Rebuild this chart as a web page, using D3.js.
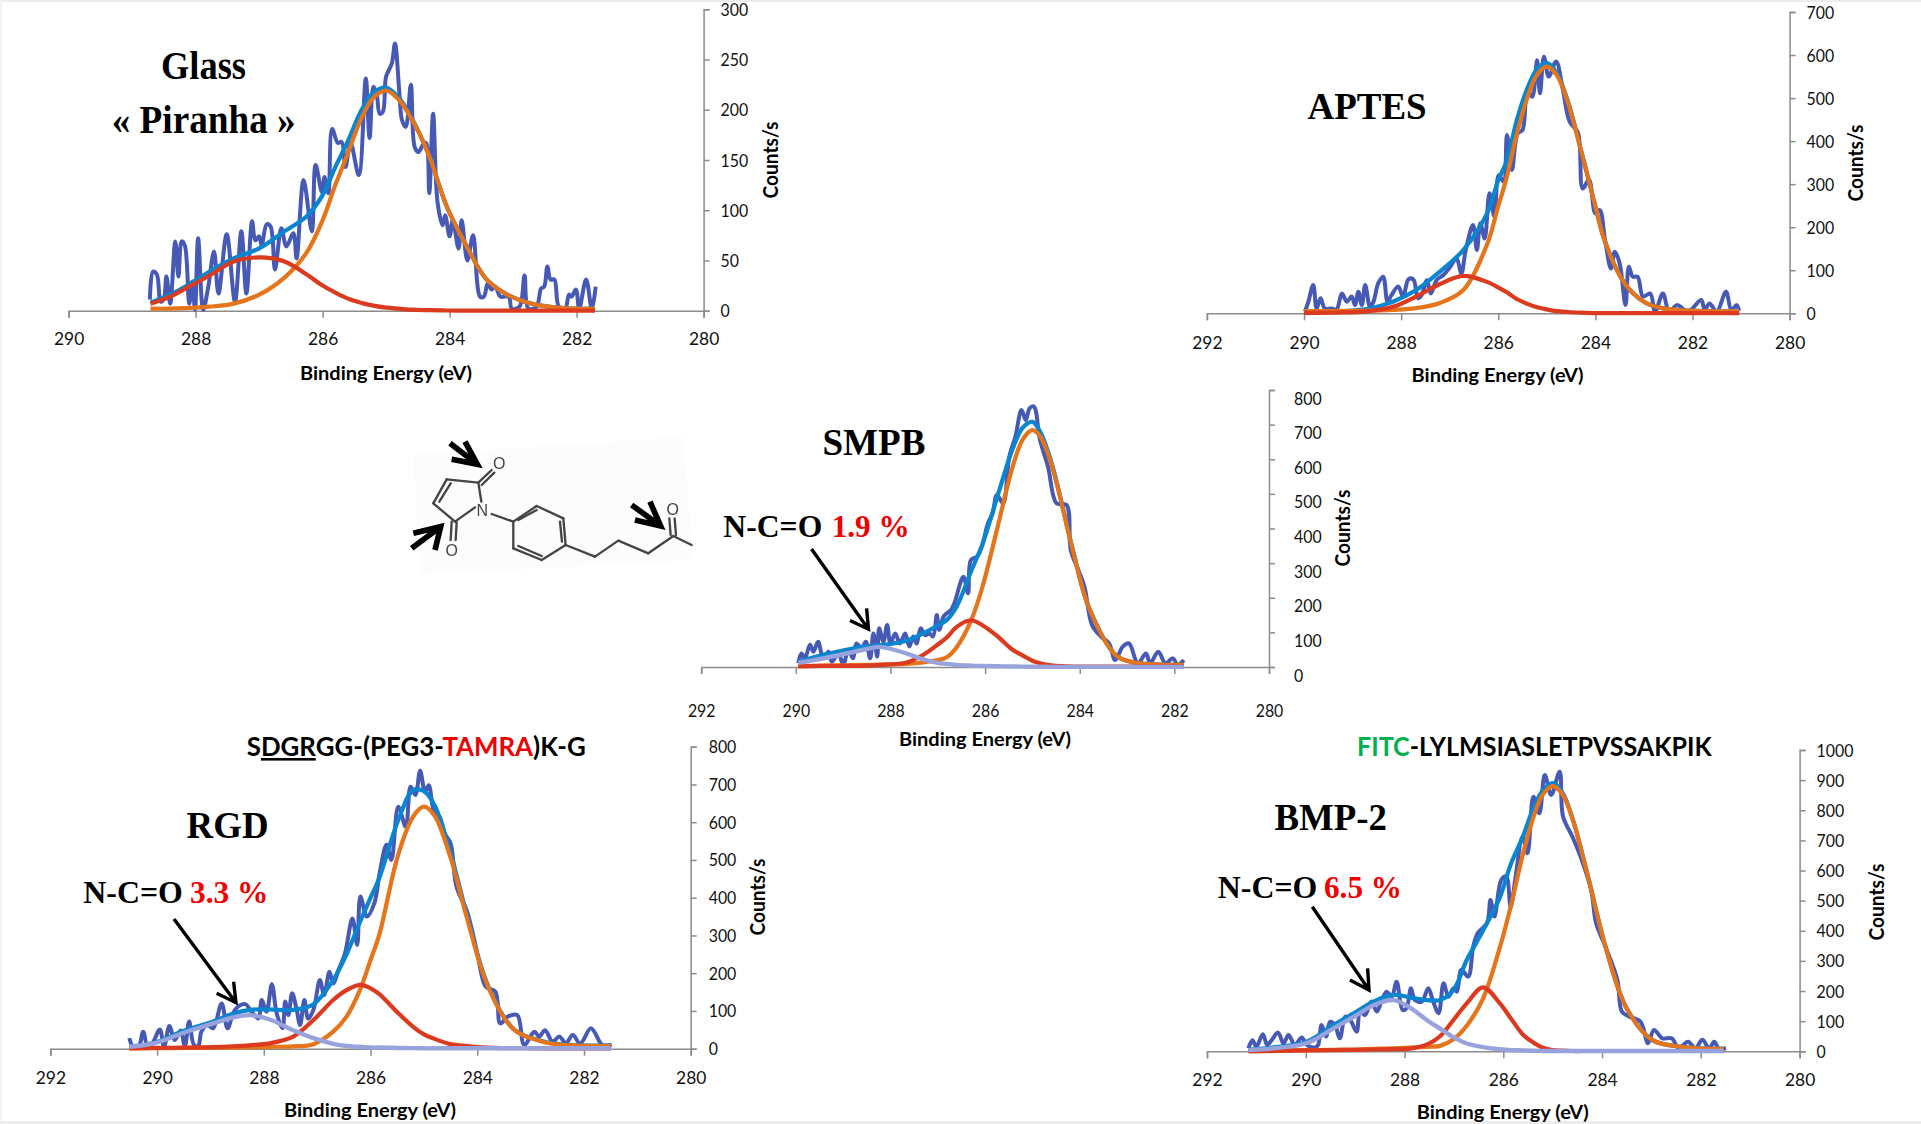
<!DOCTYPE html>
<html>
<head>
<meta charset="utf-8">
<title>XPS C1s spectra</title>
<script src="https://cdnjs.cloudflare.com/ajax/libs/d3/7.8.5/d3.min.js"></script>
<style>
  html, body { margin: 0; padding: 0; background: #fff; }
  svg { display: block; }
  .axis path, .axis line { stroke: #8c8c8c; stroke-width: 1.5; fill: none; }
  .axis text { font-family: Lato, sans-serif; fill: #111; }
  .axtitle { font-family: Lato, sans-serif; font-weight: bold; fill: #000; }
  .big { font-family: "Liberation Serif", serif; font-weight: bold; }
  .pep { font-family: Lato, sans-serif; font-size: 26px; font-weight: bold; fill: #000; }
  .trace { fill: none; stroke-linejoin: round; }
</style>
</head>
<body>
<div id="chart"></div>
<script>
// Glass / Piranha
var glassNoiseEv = [288.72,288.67,288.61,288.55,288.5,288.46,288.4,288.32,288.27,288.22,288.17,288.1,288.05,288.01,287.96,287.88,287.8,287.71,287.64,287.51,287.38,287.28,287.2,287.11,287.06,287,286.96,286.88,286.82,286.75,286.65,286.57,286.46,286.41,286.3,286.17,286.11,286.01,285.97,285.91,285.85,285.76,285.7,285.64,285.56,285.43,285.32,285.26,285.2,285.15,285.1,285.05,285,284.91,284.86,284.79,284.75,284.69,284.61,284.55,284.49,284.42,284.37,284.32,284.26,284.19,284.11,284.07,284,283.95,283.86,283.81,283.72,283.63,283.52,283.46,283.4,283.34,283.28,283.2,283.07,283.02,282.9,282.82,282.76,282.63,282.56,282.51,282.46,282.41,282.35,282.28,282.18,282.12,282.08,282.01,281.96,281.85,281.76,281.7];
var glassNoise = [11,39,36,9,12,34,7,69,34,69,65,7,29,1,72,1,24,59,17,76,9,79,17,89,70,74,65,86,84,41,82,64,77,52,130,79,145,118,133,117,181,167,168,143,167,135,231,172,223,216,196,198,233,246,266,216,190,183,225,163,158,165,167,117,196,108,85,95,74,90,62,90,50,75,14,14,27,21,24,14,14,2,4,35,2,4,22,24,44,31,31,4,2,16,14,21,2,31,2,24];
var glassFitEv = [288.71,288.4,288.16,287.78,287.4,287,286.6,286.25,286,285.8,285.6,285.4,285.2,285,284.8,284.6,284.34,284.04,283.73,283.43,283.12,282.82,282.44,282.05,281.71];
var glassMain = [2,2,2.5,4,7,16,33,58,90,125,157,190,212,219,210,191,157,103,64,32,17,9,4,2,2];
var glassSide = [7,14,22,35,49,53,49,36,25,18,12,8,5,3,2,1,0.5,0.2,0,0,0,0,0,0,0];
var glassEnvelope = [8,16,24,39,52,62,79,94,115,143,169,198,217,222,212,192,157,103,64,32,17,9,4,2,2];

// APTES
var aptesNoiseEv = [289.98,289.91,289.81,289.74,289.66,289.57,289.43,289.33,289.22,289.12,289.02,288.95,288.88,288.81,288.74,288.64,288.57,288.47,288.37,288.28,288.2,288.06,287.96,287.85,287.75,287.65,287.58,287.47,287.39,287.27,287.13,286.99,286.86,286.76,286.67,286.52,286.44,286.37,286.28,286.18,286.08,285.99,285.89,285.82,285.72,285.6,285.5,285.4,285.3,285.2,285.14,285.06,284.96,284.81,284.67,284.53,284.36,284.26,284.13,284,283.91,283.8,283.68,283.6,283.5,283.38,283.31,283.23,283.13,283.02,282.87,282.77,282.61,282.48,282.32,282.09,281.82,281.75,281.65,281.5,281.31,281.2,281.09,281.04];
var aptesNoise = [4,27,66,11,35,11,11,9,46,27,39,19,50,19,66,15,27,70,85,27,42,62,39,79,79,35,42,77,46,77,89,108,128,93,147,205,147,209,174,279,225,321,306,414,333,418,426,519,503,588,511,596,550,585,520,445,420,290,310,232,240,170,104,143,116,19,108,85,85,39,46,4,46,4,19,4,31,8,23,4,50,8,19,6];
var aptesFitEv = [290,289.2,288.66,288.17,287.69,287.2,286.72,286.23,286,285.84,285.6,285.4,285.2,285,284.8,284.57,284.28,283.99,283.8,283.4,283,282.63,282.05,281.04];
var aptesMain = [5,5.5,6,8,12,24,54,160,249,310,424,501,554,573,554,491,372,244,166,70,27,12,6,5];
var aptesSide = [1,2,5,15,39,68,87,73,60,50,32,22,14,9,5,3,1.5,0.5,0.5,0.5,0.5,0.5,0.5,0.5];
var aptesEnvelope = [3,5,11,27,54,97,147,232,309,350,456,523,568,582,559,494,372,244,166,70,27,12,6,5];

// SMPB
var smpbNoiseEv = [289.95,289.88,289.81,289.7,289.63,289.53,289.42,289.31,289.24,289.1,289,288.89,288.79,288.72,288.61,288.52,288.43,288.36,288.28,288.24,288.15,288.07,288,287.9,287.8,287.69,287.6,287.52,287.45,287.36,287.27,287.18,287.1,287.02,286.97,286.88,286.81,286.72,286.64,286.46,286.36,286.3,286.17,286.07,285.94,285.84,285.75,285.62,285.49,285.36,285.23,285.14,285.06,284.97,284.84,284.67,284.49,284.28,284.19,284.03,283.9,283.74,283.55,283.38,283.25,283.09,282.96,282.77,282.6,282.51,282.34,282.19,282.03,281.93,281.8];
var smpbNoise = [11,39,25,64,44,73,25,44,15,39,6,49,25,68,54,73,25,97,30,112,73,121,68,97,68,97,59,88,68,112,92,97,88,150,107,145,155,165,188,261,213,309,319,347,415,444,497,473,607,665,742,713,747,752,656,578,473,468,338,280,232,121,88,68,20,59,68,11,39,11,44,11,25,6,20];
var smpbFitEv = [289.95,289.42,288.93,288.5,288.22,287.66,287.31,287,286.81,286.6,286.3,286.05,285.75,285.42,285.2,285,284.84,284.6,284.13,283.8,283.22,282.8,282.3,281.8];
var smpbMain = [3,4,5,6,7,9,13,20,28,57,133,234,396,577,658,684,667,586,328,169,32,12,7,6];
var smpbSide = [2,3,3,4,6,13,35,65,85,116,135,120,90,50,33,18,11,5,1,1,1,1,1,1];
var smpbExtra = [12,25,39,52,58,39,22,12,9,6,4,3,2,1.5,1,0.8,0.7,0.5,0.5,0.5,0.5,0.5,0.5,0.5];
var smpbEnvelope = [15,35,50,60,63,76,97,120,136,175,275,357,488,629,692,708,680,592,330,170,32,12,7,6];

// RGD
var rgdNoiseEv = [290.52,290.45,290.35,290.26,290.18,290.09,289.95,289.87,289.77,289.67,289.56,289.48,289.4,289.31,289.23,289.17,289.06,288.95,288.79,288.68,288.54,288.35,288.23,288.1,288.04,287.95,287.85,287.76,287.65,287.6,287.54,287.47,287.39,287.32,287.24,287.17,287.07,286.95,286.87,286.77,286.7,286.6,286.48,286.34,286.25,286.19,286.07,285.93,285.82,285.7,285.61,285.48,285.34,285.25,285.16,285.07,284.98,284.91,284.8,284.71,284.61,284.5,284.39,284.2,284.07,283.98,283.84,283.66,283.57,283.43,283.25,283.12,282.93,282.84,282.73,282.59,282.46,282.34,282.21,282.07,281.87,281.71,281.66,281.48];
var rgdNoise = [28,5,4,45,7,14,51,5,60,23,48,7,72,10,7,45,63,54,120,54,103,118,98,80,129,98,171,94,54,125,89,147,107,63,129,80,103,182,142,204,173,209,252,345,275,403,350,385,473,540,500,641,588,694,672,736,681,698,623,615,570,544,429,367,297,239,164,151,67,85,89,10,45,32,49,19,32,14,36,14,54,19,10,10];
var rgdFitEv = [290.52,290.07,289.45,288.95,288.6,288.26,287.9,287.45,287.07,286.7,286.45,286.2,286,285.84,285.48,285.2,285,284.8,284.5,284.2,283.8,283.3,282.75,282.4,281.5];
var rgdMain = [1,1.5,2,3,3,4,5,6,12,45,85,155,235,300,515,615,641,617,506,350,165,49,18,10,7];
var rgdSide = [1,2,3,4,6,9,14,32,76,129,155,169,160,145,94,58,38,26,12,7,3,1.5,1,1,1];
var rgdExtra = [5,14,45,67,82,89,78,49,28,13,7,5,3,3,2,1.5,1,1,1,1,1,1,1,1,1];
var rgdEnvelope = [6,15,50,72,92,103,104,103,118,182,250,335,400,451,606,685,682,645,518,358,168,50,19,11,8];

// BMP-2
var bmpNoiseEv = [291.16,291.08,291,290.87,290.78,290.69,290.56,290.45,290.35,290.22,290.08,289.98,289.81,289.75,289.68,289.59,289.51,289.41,289.31,289.2,289.1,288.97,288.9,288.8,288.67,288.56,288.46,288.36,288.26,288.16,288.04,287.96,287.87,287.79,287.65,287.52,287.42,287.31,287.21,287.11,287.01,286.94,286.85,286.71,286.61,286.52,286.33,286.26,286.18,286.04,285.94,285.85,285.75,285.61,285.51,285.39,285.27,285.16,285.03,284.86,284.79,284.6,284.41,284.22,284.12,283.93,283.69,283.6,283.45,283.22,283.07,282.95,282.78,282.59,282.45,282.26,282.11,281.97,281.83,281.73,281.64,281.49];
var bmpNoise = [10,37,15,57,21,37,62,26,54,21,46,21,13,21,87,49,98,87,43,115,104,65,132,120,165,132,170,198,181,231,137,143,209,170,165,209,165,126,226,181,209,198,270,248,347,392,425,502,447,569,580,480,580,712,657,845,790,917,851,928,779,712,635,535,425,347,237,132,115,98,27,71,43,43,10,32,10,38,10,32,10,10];
var bmpFitEv = [291.16,290.66,289.98,289.44,288.97,288.63,288.22,287.89,287.55,287.28,287.01,286.74,286.41,286.07,285.85,285.6,285.37,285.2,285,284.8,284.6,284.3,283.93,283.5,282.98,282.4,281.54];
var bmpMain = [1,2,4,5,6,8,10,12,15,18,40,85,175,345,480,656,787,852,880,852,772,590,347,142,37,15,8];
var bmpSide = [0,1,3,4,5,6,7,9,22,50,104,159,212,159,110,55,27,12,4,2,1,1,1,1,1,1,1];
var bmpExtra = [4,10,27,76,120,153,170,145,104,75,47,26,14,7,4,3,2,1,1,1,1,1,1,1,1,1,1];
var bmpEnvelope = [6,13,32,87,132,165,187,179,170,170,203,303,401,511,620,714,816,865,890,858,774,590,347,142,37,15,8];

var xTicksShort = [290,288,286,284,282,280];
var xTicksLong = [292,290,288,286,284,282,280];
var yTicks300 = [0,50,100,150,200,250,300];
var yTicks700 = [0,100,200,300,400,500,600,700];
var yTicks800 = [0,100,200,300,400,500,600,700,800];
var yTicks1000 = [0,100,200,300,400,500,600,700,800,900,1000];

var colors = {noise: "#4659b5", envelope: "#0a85cf", main: "#e5741b", side: "#db3a1f", extra: "#98a2dc"};

// frames are in page pixels
var panels = [
  {noiseEv: glassNoiseEv, noise: glassNoise, fitEv: glassFitEv, main: glassMain, side: glassSide, envelope: glassEnvelope,
   domain: [290,280], xticks: xTicksShort, ymax: 300, yticks: yTicks300, xdigit: 10.1,
   left: 68.6, right: 703.6, bottom: 310.7, top: 9.3, xpad: 15, ypad: 11, ydy: 0, titleX: 386, titleY: 380, countsX: 778, countsY: 160},
  {noiseEv: aptesNoiseEv, noise: aptesNoise, fitEv: aptesFitEv, main: aptesMain, side: aptesSide, envelope: aptesEnvelope,
   domain: [292,280], xticks: xTicksLong, ymax: 700, yticks: yTicks700, xdigit: 10.1,
   left: 1206.9, right: 1789.6, bottom: 313.3, top: 12, xpad: 16, ypad: 11, ydy: 0, titleX: 1497.6, titleY: 382, countsX: 1863, countsY: 163},
  {noiseEv: smpbNoiseEv, noise: smpbNoise, fitEv: smpbFitEv, main: smpbMain, side: smpbSide, extra: smpbExtra, envelope: smpbEnvelope,
   domain: [292,280], xticks: xTicksLong, ymax: 800, yticks: yTicks800, xdigit: 9.2,
   left: 701.2, right: 1269, bottom: 667, top: 390, xpad: 30, ypad: 19, ydy: 8, titleX: 985, titleY: 746, countsX: 1350, countsY: 528},
  {noiseEv: rgdNoiseEv, noise: rgdNoise, fitEv: rgdFitEv, main: rgdMain, side: rgdSide, extra: rgdExtra, envelope: rgdEnvelope,
   domain: [292,280], xticks: xTicksLong, ymax: 800, yticks: yTicks800, xdigit: 10.1,
   left: 50.4, right: 690.7, bottom: 1048.7, top: 746.7, xpad: 16, ypad: 12, ydy: 0, titleX: 370, titleY: 1117, countsX: 765, countsY: 897},
  {noiseEv: bmpNoiseEv, noise: bmpNoise, fitEv: bmpFitEv, main: bmpMain, side: bmpSide, extra: bmpExtra, envelope: bmpEnvelope,
   domain: [292,280], xticks: xTicksLong, ymax: 1000, yticks: yTicks1000, xdigit: 10.1,
   left: 1207, right: 1799.6, bottom: 1051.3, top: 750, xpad: 15, ypad: 11, ydy: 0, titleX: 1502.8, titleY: 1119, countsX: 1884, countsY: 902}
];

var svg = d3.select("#chart").append("svg")
    .attr("width", 1921)
    .attr("height", 1124);

svg.append("rect").attr("width", 1921).attr("height", 1124).attr("fill", "#fff");
svg.append("rect").attr("width", 1921).attr("height", 2).attr("fill", "#ececec");
svg.append("rect").attr("width", 2).attr("height", 1124).attr("fill", "#f2f2f2");
svg.append("rect").attr("y", 1121).attr("width", 1921).attr("height", 3).attr("fill", "#ececec");

var drawPanel = function(p) {
  var x = d3.scaleLinear().domain(p.domain).range([p.left, p.right]);
  var y = d3.scaleLinear().domain([0, p.ymax]).range([p.bottom, p.top]);
  var g = svg.append("g");

  var xax = g.append("g")
      .attr("class", "axis")
      .attr("transform", "translate(0," + p.bottom + ")")
      .call(d3.axisBottom(x).tickValues(p.xticks).tickFormat(d3.format("d")).tickSize(7).tickSizeOuter(7).tickPadding(p.xpad));
  xax.selectAll("text")
      .attr("font-size", 18)
      .attr("textLength", function(d) { return String(d).length * p.xdigit; })
      .attr("lengthAdjust", "spacingAndGlyphs");

  var yax = g.append("g")
      .attr("class", "axis")
      .attr("transform", "translate(" + p.right + ",0)")
      .call(d3.axisRight(y).tickValues(p.yticks).tickFormat(d3.format("d")).tickSize(6).tickSizeOuter(6).tickPadding(p.ypad));
  yax.selectAll("text")
      .attr("font-size", 17.5)
      .attr("dy", function() { return (p.ydy + 6) + "px"; })
      .attr("textLength", function(d) { return String(d).length * 9.2; })
      .attr("lengthAdjust", "spacingAndGlyphs");

  var trace = function(ev, vals, color, w) {
    var line = d3.line()
        .x(function(d, i) { return x(ev[i]); })
        .y(function(d) { return y(d); })
        .curve(d3.curveCatmullRom.alpha(0.5));
    g.append("path")
        .attr("class", "trace")
        .attr("d", line(vals))
        .attr("stroke", color)
        .attr("stroke-width", w);
  };

  trace(p.noiseEv, p.noise, colors.noise, 4);
  trace(p.fitEv, p.envelope, colors.envelope, 4.2);
  trace(p.fitEv, p.main, colors.main, 4.2);
  trace(p.fitEv, p.side, colors.side, 4.2);
  if (p.extra) trace(p.fitEv, p.extra, colors.extra, 4.4);

  g.append("text")
      .attr("class", "axtitle")
      .attr("x", p.titleX)
      .attr("y", p.titleY)
      .attr("font-size", 19.5)
      .attr("text-anchor", "middle")
      .attr("textLength", 172)
      .attr("lengthAdjust", "spacingAndGlyphs")
      .text("Binding Energy (eV)");

  g.append("text")
      .attr("class", "axtitle")
      .attr("transform", "translate(" + p.countsX + "," + p.countsY + ") rotate(-90)")
      .attr("font-size", 20)
      .attr("text-anchor", "middle")
      .attr("textLength", 77)
      .attr("lengthAdjust", "spacingAndGlyphs")
      .text("Counts/s");
};

panels.forEach(drawPanel);

// big serif labels: text, left, baseline, width, size, colour
var labels = [
  ["Glass", 161, 78.5, 85, 40, "#000"],
  ["« Piranha »", 111.7, 133, 184, 40, "#000"],
  ["APTES", 1307.6, 118.5, 119, 37, "#000"],
  ["SMPB", 822.5, 454.5, 103, 38, "#000"],
  ["N-C=O", 723.3, 537, 99, 31, "#000"],
  ["1.9 %", 831.7, 537, 78, 31, "#f00000"],
  ["RGD", 186.6, 837.5, 82, 37, "#000"],
  ["N-C=O", 83.3, 903, 99.5, 31, "#000"],
  ["3.3 %", 190, 903, 78.5, 31, "#f00000"],
  ["BMP-2", 1274.5, 829.5, 112.5, 37, "#000"],
  ["N-C=O", 1217.8, 898, 99.5, 31, "#000"],
  ["6.5 %", 1324, 898, 78, 31, "#f00000"]
];

svg.selectAll(".big").data(labels)
  .enter().append("text")
    .attr("class", "big")
    .attr("x", function(d) { return d[1]; })
    .attr("y", function(d) { return d[2]; })
    .attr("textLength", function(d) { return d[3]; })
    .attr("lengthAdjust", "spacingAndGlyphs")
    .attr("font-size", function(d) { return d[4]; })
    .attr("fill", function(d) { return d[5]; })
    .text(function(d) { return d[0]; });

// peptide sequences
var rgdPep = svg.append("text").attr("class", "pep").attr("x", 246.7).attr("y", 756)
    .attr("textLength", 339).attr("lengthAdjust", "spacingAndGlyphs");
rgdPep.append("tspan").text("S");
rgdPep.append("tspan").attr("text-decoration", "underline").text("DGR");
rgdPep.append("tspan").text("GG-(PEG3-");
rgdPep.append("tspan").attr("fill", "#f00000").text("TAMRA");
rgdPep.append("tspan").text(")K-G");

var bmpPep = svg.append("text").attr("class", "pep").attr("x", 1357).attr("y", 756)
    .attr("textLength", 354.6).attr("lengthAdjust", "spacingAndGlyphs");
bmpPep.append("tspan").attr("fill", "#00b050").text("FITC");
bmpPep.append("tspan").text("-LYLMSIASLETPVSSAKPIK");

// callout arrows: tail, tip, then the two barbs
var arrows = [
  [[811.5,549],[868.5,629.3],[850,620.5],[866.6,608.3]],
  [[174,919],[236,1002.7],[216.6,993.3],[233.6,981.7]],
  [[1312.3,906.7],[1369,990],[1350,980],[1367.6,968.3]]
];
arrows.forEach(function(a) {
  svg.append("path")
      .attr("d", "M" + a[0] + "L" + a[1] + "M" + a[2] + "L" + a[1] + "L" + a[3])
      .attr("fill", "none")
      .attr("stroke", "#000")
      .attr("stroke-width", 3.4);
});

// maleimide structure, local coords are 3x page pixels
var mol = svg.append("g").attr("transform", "translate(400,420) scale(0.3333)");
mol.append("defs").append("filter").attr("id", "soft")
  .append("feGaussianBlur").attr("stdDeviation", 2);
mol.append("polygon")
    .attr("points", "40,105 850,50 880,420 60,465")
    .attr("fill", "#fcfcfc");

var bonds = [
  [[140,178],[235,188]], [[235,188],[244,245]], [[225,262],[165,305]], [[165,305],[100,250]], [[100,250],[140,178]],
  [[118,245],[152,190]],
  [[235,188],[275,150]], [[245,195],[283,158]],
  [[155,305],[152,360]], [[170,307],[167,360]],
  [[275,282],[340,305]],
  [[340,305],[410,258]], [[410,258],[490,295]], [[490,295],[497,375]], [[497,375],[425,420]], [[425,420],[340,385]], [[340,385],[340,305]],
  [[355,300],[410,270]], [[480,305],[486,365]], [[355,378],[425,408]],
  [[497,375],[585,410]], [[585,410],[655,362]], [[655,362],[745,400]], [[745,400],[820,348]], [[820,348],[875,375]],
  [[812,345],[808,295]], [[828,345],[824,295]]
];
mol.append("g").attr("filter", "url(#soft)").selectAll("line").data(bonds)
  .enter().append("line")
    .attr("x1", function(d) { return d[0][0]; })
    .attr("y1", function(d) { return d[0][1]; })
    .attr("x2", function(d) { return d[1][0]; })
    .attr("y2", function(d) { return d[1][1]; })
    .attr("stroke", "#444")
    .attr("stroke-width", 7)
    .attr("stroke-linecap", "round");

var atoms = [["O",298,130],["O",155,390],["N",247,270],["O",818,268]];
mol.append("g").attr("filter", "url(#soft)").selectAll("text").data(atoms)
  .enter().append("text")
    .attr("x", function(d) { return d[1]; })
    .attr("y", function(d) { return d[2] + 17; })
    .attr("text-anchor", "middle")
    .attr("font-family", "Liberation Sans, sans-serif")
    .attr("font-size", 48)
    .attr("fill", "#444")
    .text(function(d) { return d[0]; });

var molArrows = [
  [[150,70],[232,133],[155,118],[195,65]],
  [[35,385],[122,320],[40,340],[105,390]],
  [[695,255],[782,318],[705,300],[750,245]]
];
molArrows.forEach(function(a) {
  mol.append("path")
      .attr("d", "M" + a[0] + "L" + a[1] + "M" + a[2] + "L" + a[1] + "L" + a[3])
      .attr("fill", "none")
      .attr("stroke", "#000")
      .attr("stroke-width", 17);
});
</script>
</body>
</html>
